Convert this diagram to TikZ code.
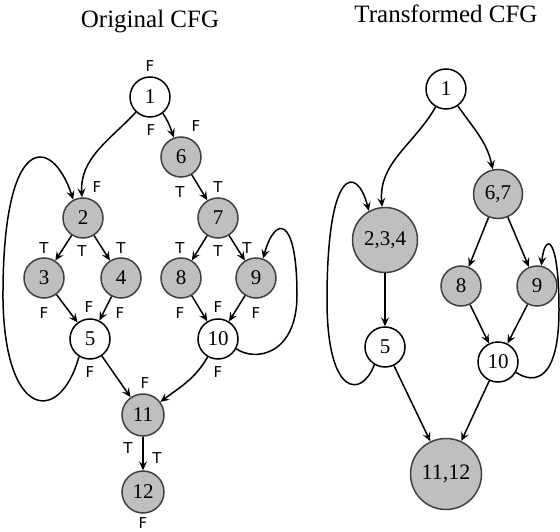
\documentclass[tikz,border=0pt]{standalone}
\usepackage{fontspec}
\setmainfont{Liberation Serif}
\newfontfamily\lblfont{DejaVu Sans}
\usetikzlibrary{arrows.meta}
\tikzset{
  wnode/.style={circle,draw=black,fill=white,line width=1.5pt,inner sep=0pt,minimum size=#1,font=\fontsize{21}{24}\selectfont},
  wnode/.default=40pt,
  gnode/.style={circle,draw=black!75,fill=black!25,line width=1.5pt,inner sep=0pt,minimum size=#1,font=\fontsize{21}{24}\selectfont},
  gnode/.default=40pt,
  edge/.style={line width=1.5pt,-{Stealth[length=9pt,width=8pt,inset=3.5pt]}},
  lbl/.style={inner sep=0pt,font=\lblfont\fontsize{15}{17}\selectfont},
  ttl/.style={inner sep=0pt,anchor=base,font=\fontsize{25}{28}\selectfont}
}
\begin{document}
\begin{tikzpicture}[x=1pt,y=-1pt]
\useasboundingbox (0,0) rectangle (560,532);
% titles
\node[ttl] (t1) at (150,28) {Original CFG};
\node[ttl] (t2) at (446,23) {Transformed CFG};
% ---------- original ----------
\node[wnode] (L1) at (150,97) {1};
\node[gnode] (L6) at (181,157) {6};
\node[gnode] (L2) at (83,218) {2};
\node[gnode] (L7) at (218,218) {7};
\node[gnode] (L3) at (44,278) {3};
\node[gnode] (L4) at (121,278) {4};
\node[gnode] (L8) at (181,278) {8};
\node[gnode] (L9) at (256,278) {9};
\node[wnode] (L5) at (90,339) {5};
\node[wnode] (L10) at (218,339) {10};
\node[gnode=42pt] (L11) at (143,415) {11};
\node[gnode=42pt] (L12) at (143,492) {12};
\draw[edge] (L1) to[out=-133,in=93] (L2);
\draw[edge] (L1.-52) to[out=-55,in=110] (L6);
\draw[edge] (L6) -- (L7);
\draw[edge] (L2) -- (L3);
\draw[edge] (L2) -- (L4);
\draw[edge] (L7) -- (L8);
\draw[edge] (L7) -- (L9);
\draw[edge] (L3) -- (L5);
\draw[edge] (L4) -- (L5);
\draw[edge] (L8) -- (L10);
\draw[edge] (L9) -- (L10);
\draw[edge] (L5) -- (L11);
\draw[edge] (L10) to[out=-120,in=37] (L11);
\draw[edge] (L11) -- (L12);
\draw[edge] (L5.-122) .. controls (60,425) and (5,420) .. (3,300)
  .. controls (2,130) and (52,135) .. (L2.118);
\draw[edge] (L10.-28) .. controls (255,362) and (297,355) .. (297,295)
  .. controls (297,215) and (275,215) .. (L9.70);
% labels
\node[lbl] (f1) at (150,66) {F};
\node[lbl] (f2) at (151,130) {F};
\node[lbl] (f3) at (196,126) {F};
\node[lbl] (f4) at (97,187) {F};
\node[lbl] (t6a) at (180,192) {T};
\node[lbl] (t6b) at (218,187) {T};
\node[lbl] (t2a) at (44,248) {T};
\node[lbl] (t2b) at (82,251) {T};
\node[lbl] (t2c) at (121,248) {T};
\node[lbl] (t7a) at (180,248) {T};
\node[lbl] (t7b) at (218,251) {T};
\node[lbl] (t7c) at (247,248) {T};
\node[lbl] (f5a) at (44,313) {F};
\node[lbl] (f5b) at (89,307) {F};
\node[lbl] (f5c) at (120,313) {F};
\node[lbl] (f10a) at (180,313) {F};
\node[lbl] (f10b) at (218,307) {F};
\node[lbl] (f10c) at (256,313) {F};
\node[lbl] (f5d) at (90,372) {F};
\node[lbl] (f10d) at (218,372) {F};
\node[lbl] (f11) at (145,383) {F};
\node[lbl] (t11a) at (128,448) {T};
\node[lbl] (t11b) at (157,458) {T};
\node[lbl] (f12) at (143,523) {F};
% ---------- transformed ----------
\node[wnode] (R1) at (446,89) {1};
\node[gnode=49pt] (R67) at (498,194) {6,7};
\node[gnode=65pt] (R234) at (385,240) {2,3,4};
\node[gnode] (R8) at (461,286) {8};
\node[gnode] (R9) at (537,286) {9};
\node[wnode] (R5) at (385,347) {5};
\node[wnode] (R10) at (498,362) {10};
\node[gnode=71pt,font=\fontsize{22}{25}\selectfont] (R1112) at (446,474) {11,12};
\draw[edge] (R1) to[out=-120,in=95] (R234);
\draw[edge] (R1) to[out=-55,in=102] (R67);
\draw[edge] (R67) -- (R8);
\draw[edge] (R67) -- (R9);
\draw[edge] (R8) -- (R10);
\draw[edge] (R9) -- (R10);
\draw[edge] (R234) -- (R5);
\draw[edge] (R5) -- (R1112);
\draw[edge] (R10) -- (R1112);
\draw[edge] (R5.-121) .. controls (362,398) and (327,398) .. (327,300)
  .. controls (327,165) and (357,165) .. (R234.119);
\draw[edge] (R10.-30) .. controls (535,385) and (559,380) .. (559,310)
  .. controls (559,235) and (545,232) .. (R9.78);
\end{tikzpicture}
\end{document}
